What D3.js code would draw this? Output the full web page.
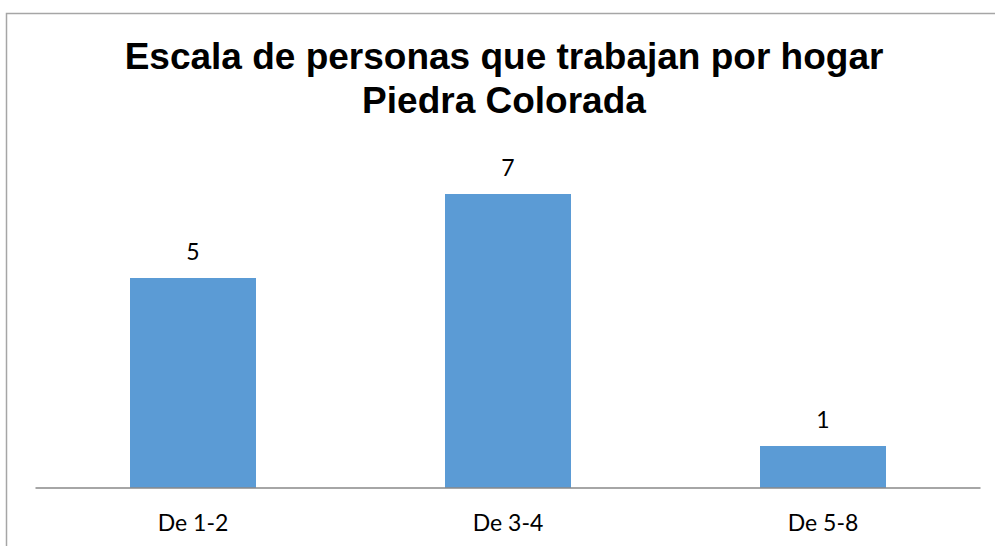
<!DOCTYPE html>
<html>
<head>
<meta charset="utf-8">
<script src="https://cdn.jsdelivr.net/npm/d3@7"></script>
<style>
  body { margin: 0; background: #fff; }
</style>
</head>
<body>
<script>
// data
var categories = ["De 1-2", "De 3-4", "De 5-8"];
var values = [5, 7, 1];
var titleLines = ["Escala de personas que trabajan por hogar", "Piedra Colorada"];

var W = 995, H = 546;
var margin = {top: 152, bottom: 58, left: 35.5, right: 14.5};

var svg = d3.select("body").append("svg")
    .attr("width", W)
    .attr("height", H);

// chart border (runs off the right and bottom edges)
svg.append("rect")
    .attr("x", 6.5).attr("y", 13.5)
    .attr("width", W).attr("height", H)
    .attr("fill", "none")
    .attr("stroke", "#a6a6a6")
    .attr("stroke-width", 1.5);

var x = d3.scaleBand()
    .domain(categories)
    .range([margin.left, W - margin.right])
    .paddingInner(0.6)
    .paddingOuter(0.3);

var y = d3.scaleLinear()
    .domain([0, 8])
    .range([H - margin.bottom, margin.top]);

// title
svg.append("text")
    .attr("x", 504)
    .attr("y", 69)
    .attr("text-anchor", "middle")
    .style("font-family", "'Liberation Sans', Arial, sans-serif")
    .style("font-weight", "bold")
    .style("font-size", "37px")
    .selectAll("tspan")
    .data(titleLines)
    .join("tspan")
    .attr("x", 504)
    .attr("dy", function(d, i) { return i ? 44 : 0; })
    .text(function(d) { return d; });

// bars
svg.selectAll("rect.bar")
    .data(values)
    .join("rect")
    .attr("class", "bar")
    .attr("x", function(d, i) { return x(categories[i]); })
    .attr("y", function(d) { return y(d); })
    .attr("width", x.bandwidth())
    .attr("height", function(d) { return y(0) - y(d); })
    .attr("fill", "#5b9bd5");

// value labels
svg.selectAll("text.val")
    .data(values)
    .join("text")
    .attr("class", "val")
    .attr("x", function(d, i) { return x(categories[i]) + x.bandwidth() / 2; })
    .attr("y", function(d) { return y(d) - 18; })
    .attr("text-anchor", "middle")
    .style("font-family", "Lato, 'Open Sans', sans-serif")
    .style("font-size", "23px")
    .attr("fill", "#000")
    .text(function(d) { return d; });

// x axis
var xAxis = svg.append("g")
    .attr("transform", "translate(0," + y(0) + ")")
    .call(d3.axisBottom(x).tickSize(0).tickPadding(0).tickSizeOuter(0));

xAxis.select(".domain")
    .attr("stroke", "#898989")
    .attr("stroke-width", 1.5)
    .attr("d", "M" + margin.left + ",0H" + (W - margin.right));

xAxis.selectAll(".tick text")
    .attr("y", 43)
    .attr("dy", 0)
    .style("font-family", "Lato, 'Open Sans', sans-serif")
    .style("font-size", "23px")
    .attr("fill", "#000");
</script>
</body>
</html>
